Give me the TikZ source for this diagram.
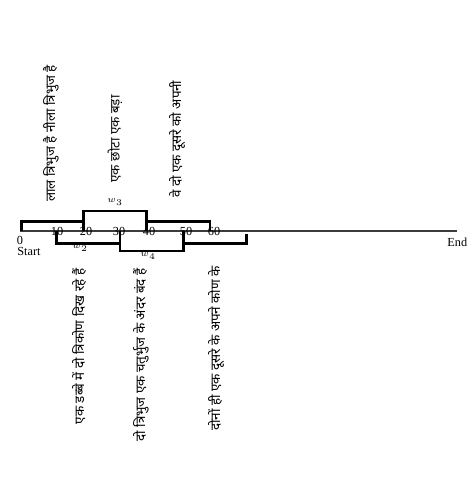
\documentclass[tikz,border=0pt]{standalone}
\usepackage{fontspec}
\usepackage{xcolor}
\usepackage{tikz}
\usetikzlibrary{positioning}
\newfontfamily\hindifont[Script=Devanagari]{Noto Sans}
\newfontfamily\timesfont{Liberation Serif}
\definecolor{axisgray}{RGB}{60,60,60}

\tikzset{
  bracketline/.style={line width=1.4pt, black},
  axisline/.style={line width=0.9pt, axisgray},
  ticklabel/.style={font=\timesfont\fontsize{7}{8}\selectfont, inner sep=0pt},
  wlabel/.style={font=\timesfont\fontsize{5.5}{6}\selectfont, inner sep=0pt},
  caption/.style={font=\hindifont\fontsize{7.6}{9}\selectfont, rotate=90, inner sep=0pt}
}

\begin{document}
\begin{tikzpicture}[x=0.02cm, y=-0.02cm]
  \useasboundingbox (0,0) rectangle (476,500);

  % time axis
  \coordinate (start) at (20,231);
  \coordinate (end) at (457,231);
  \draw[axisline] (start) -- (end);
  \node[ticklabel] (t0) at (20,240) {0};
  \node[ticklabel] (t10) at (57,231) {10};
  \node[ticklabel] (t20) at (86,231) {20};
  \node[ticklabel] (t30) at (119,231) {30};
  \node[ticklabel] (t40) at (149,231) {40};
  \node[ticklabel] (t50) at (186,231) {50};
  \node[ticklabel] (t60) at (214,231) {60};
  \node[ticklabel, anchor=west] (startlbl) at (17,251.5) {Start};
  \node[ticklabel, anchor=west] (endlbl) at (447,242) {End};

  % windows above the axis
  \draw[bracketline] (21.3,231) -- (21.3,221.7) -- (83.3,221.7) -- (83.3,231);
  \draw[bracketline] (83.3,221.7) -- (83.3,211) -- (146.7,211) -- (146.7,231);
  \draw[bracketline] (146.7,231) -- (146.7,221.7) -- (210,221.7) -- (210,231);
  \node[wlabel] (w3) at (115,202) {$w_3$};

  % windows below the axis
  \draw[bracketline] (56.7,231) -- (56.7,243.3) -- (120,243.3) -- (120,231);
  \draw[bracketline] (120,243.3) -- (120,251) -- (183.3,251) -- (183.3,231);
  \draw[bracketline] (183.3,243.3) -- (246.7,243.3) -- (246.7,234);
  \node[wlabel] (w2) at (80,248) {$w_2$};
  \node[wlabel] (w4) at (148,256) {$w_4$};

  % captions
  \node[caption] (cap1) at (51,133.5) {लाल त्रिभुज है नीला त्रिभुज है};
  \node[caption] (cap2) at (115,139) {एक छोटा एक बड़ा};
  \node[caption] (cap3) at (177,139) {वे दो एक दूसरे को अपनी};
  \node[caption] (cap4) at (79,346.5) {एक डब्बे में दो त्रिकोण दिख रहे हैं};
  \node[caption] (cap5) at (141,355) {दो त्रिभुज एक चतुर्भुज के अंदर बंद हैं};
  \node[caption] (cap6) at (216,348.5) {दोनों ही एक दूसरे के अपने कोण के};
\end{tikzpicture}
\end{document}
